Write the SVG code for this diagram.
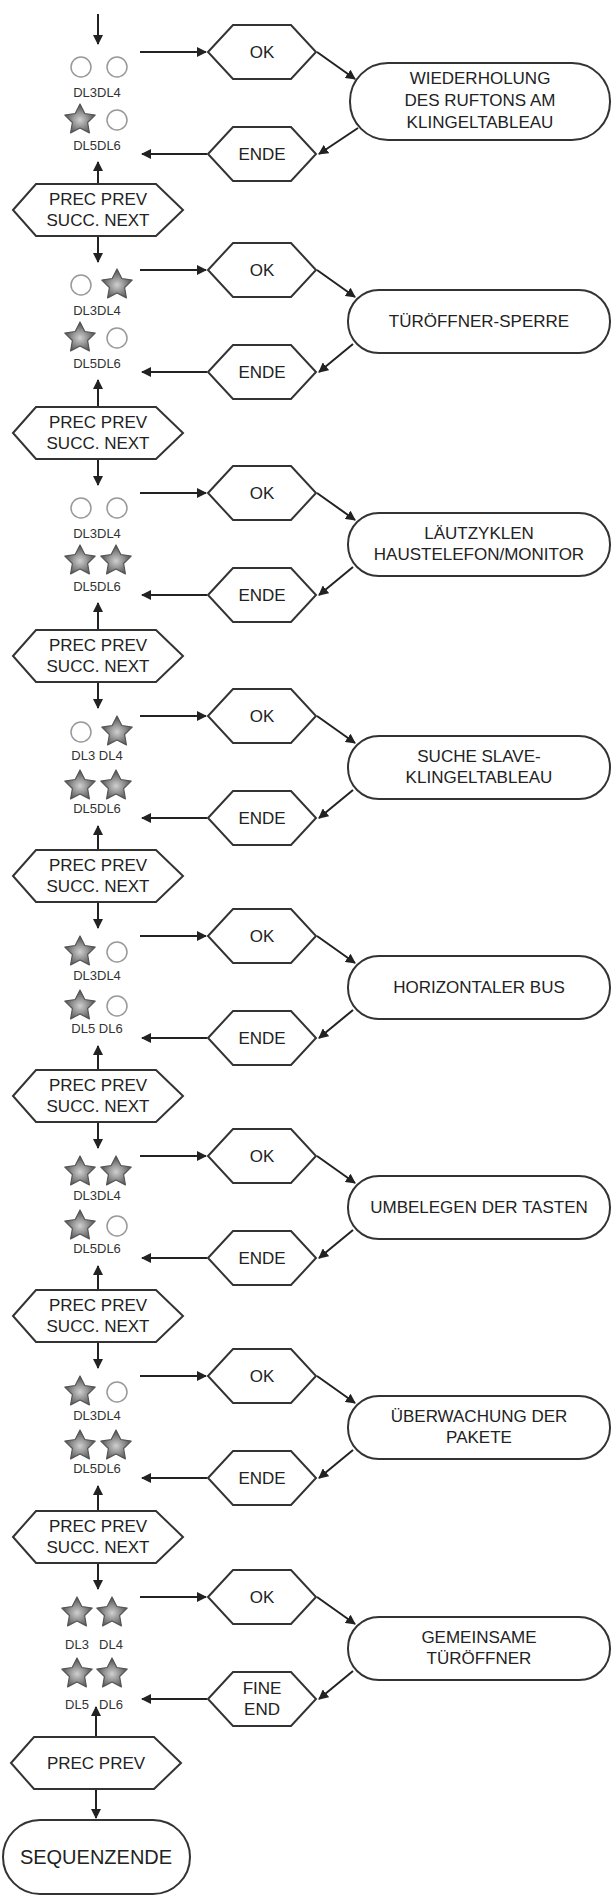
<svg xmlns="http://www.w3.org/2000/svg" xmlns:xlink="http://www.w3.org/1999/xlink" width="615" height="1898" viewBox="0 0 615 1898">
<style>
.s{fill:#fff;stroke:#333;stroke-width:2}
.c{stroke:#222;stroke-width:2;fill:none}
.t{font-family:"Liberation Sans",Arial,sans-serif;font-size:17px;fill:#222;text-anchor:middle}
.l{font-family:"Liberation Sans",Arial,sans-serif;font-size:13px;fill:#333;text-anchor:middle}
.o{fill:#fff;stroke:#999;stroke-width:1.5}
</style>
<defs>
<marker id="a" viewBox="0 0 10 10" refX="9" refY="5" markerWidth="5" markerHeight="5" orient="auto"><path d="M0,0 L10,5 L0,10 z" fill="#222"/></marker>
<radialGradient id="g" cx="0.5" cy="0.55" r="0.55"><stop offset="0" stop-color="#d0d0d0"/><stop offset="1" stop-color="#4a4a4a"/></radialGradient>
<polygon id="st" points="0,-16 4.8,-6.5 15.2,-4.9 7.6,2.5 9.4,12.9 0,8 -9.4,12.9 -7.6,2.5 -15.2,-4.9 -4.8,-6.5" fill="url(#g)" stroke="#555" stroke-width="1.2" stroke-linejoin="round"/>
<circle id="ci" r="10" class="o"/>
<polygon id="hx" points="-54,0 -29,-27 29,-27 54,0 29,27 -29,27" class="s"/>
<polygon id="ph" points="-85,0 -62,-26 58,-26 85,0 58,26 -62,26" class="s"/>
</defs>
<g id="connectors">
<line class="c" x1="98" y1="14" x2="98" y2="44" marker-end="url(#a)"/>
<g>
<line class="c" x1="140" y1="52" x2="206" y2="52" marker-end="url(#a)"/><line class="c" x1="317" y1="52" x2="355" y2="79" marker-end="url(#a)"/><line class="c" x1="358" y1="128" x2="319" y2="154" marker-end="url(#a)"/><line class="c" x1="207" y1="154" x2="142" y2="154" marker-end="url(#a)"/>
<line class="c" x1="98" y1="184" x2="98" y2="162" marker-end="url(#a)"/><line class="c" x1="98" y1="236" x2="98" y2="262" marker-end="url(#a)"/>
</g>
<g>
<line class="c" x1="140" y1="270" x2="206" y2="270" marker-end="url(#a)"/><line class="c" x1="317" y1="270" x2="355" y2="297" marker-end="url(#a)"/><line class="c" x1="353" y1="344" x2="319" y2="372" marker-end="url(#a)"/><line class="c" x1="207" y1="372" x2="142" y2="372" marker-end="url(#a)"/>
<line class="c" x1="98" y1="407" x2="98" y2="380" marker-end="url(#a)"/><line class="c" x1="98" y1="459" x2="98" y2="485" marker-end="url(#a)"/>
</g>
<g>
<line class="c" x1="140" y1="493" x2="206" y2="493" marker-end="url(#a)"/><line class="c" x1="317" y1="493" x2="355" y2="520" marker-end="url(#a)"/><line class="c" x1="353" y1="567" x2="319" y2="595" marker-end="url(#a)"/><line class="c" x1="207" y1="595" x2="142" y2="595" marker-end="url(#a)"/>
<line class="c" x1="98" y1="630" x2="98" y2="603" marker-end="url(#a)"/><line class="c" x1="98" y1="682" x2="98" y2="708" marker-end="url(#a)"/>
</g>
<g>
<line class="c" x1="140" y1="716" x2="206" y2="716" marker-end="url(#a)"/><line class="c" x1="317" y1="716" x2="355" y2="743" marker-end="url(#a)"/><line class="c" x1="353" y1="790" x2="319" y2="818" marker-end="url(#a)"/><line class="c" x1="207" y1="818" x2="142" y2="818" marker-end="url(#a)"/>
<line class="c" x1="98" y1="850" x2="98" y2="826" marker-end="url(#a)"/><line class="c" x1="98" y1="902" x2="98" y2="928" marker-end="url(#a)"/>
</g>
<g>
<line class="c" x1="140" y1="936" x2="206" y2="936" marker-end="url(#a)"/><line class="c" x1="317" y1="936" x2="355" y2="963" marker-end="url(#a)"/><line class="c" x1="353" y1="1010" x2="319" y2="1038" marker-end="url(#a)"/><line class="c" x1="207" y1="1038" x2="142" y2="1038" marker-end="url(#a)"/>
<line class="c" x1="98" y1="1070" x2="98" y2="1046" marker-end="url(#a)"/><line class="c" x1="98" y1="1122" x2="98" y2="1148" marker-end="url(#a)"/>
</g>
<g>
<line class="c" x1="140" y1="1156" x2="206" y2="1156" marker-end="url(#a)"/><line class="c" x1="317" y1="1156" x2="355" y2="1183" marker-end="url(#a)"/><line class="c" x1="353" y1="1230" x2="319" y2="1258" marker-end="url(#a)"/><line class="c" x1="207" y1="1258" x2="142" y2="1258" marker-end="url(#a)"/>
<line class="c" x1="98" y1="1290" x2="98" y2="1266" marker-end="url(#a)"/><line class="c" x1="98" y1="1342" x2="98" y2="1368" marker-end="url(#a)"/>
</g>
<g>
<line class="c" x1="140" y1="1376" x2="206" y2="1376" marker-end="url(#a)"/><line class="c" x1="317" y1="1376" x2="355" y2="1403" marker-end="url(#a)"/><line class="c" x1="353" y1="1450" x2="319" y2="1478" marker-end="url(#a)"/><line class="c" x1="207" y1="1478" x2="142" y2="1478" marker-end="url(#a)"/>
<line class="c" x1="98" y1="1511" x2="98" y2="1486" marker-end="url(#a)"/><line class="c" x1="98" y1="1563" x2="98" y2="1589" marker-end="url(#a)"/>
</g>
<g>
<line class="c" x1="140" y1="1597" x2="206" y2="1597" marker-end="url(#a)"/><line class="c" x1="317" y1="1597" x2="355" y2="1624" marker-end="url(#a)"/><line class="c" x1="353" y1="1671" x2="319" y2="1699" marker-end="url(#a)"/><line class="c" x1="207" y1="1699" x2="142" y2="1699" marker-end="url(#a)"/>
<line class="c" x1="96" y1="1737" x2="96" y2="1707" marker-end="url(#a)"/><line class="c" x1="96" y1="1789" x2="96" y2="1818" marker-end="url(#a)"/>
</g>
</g>

<g id="led1"><use href="#ci" x="81" y="67"/><use href="#ci" x="117" y="67"/><text class="l" x="97" y="97">DL3DL4</text><use href="#st" x="80" y="120"/><use href="#ci" x="117" y="120"/><text class="l" x="97" y="150">DL5DL6</text></g>
<g id="ok1"><use href="#hx" x="262" y="52"/><text class="t" x="262" y="58">OK</text></g>
<g id="box1"><rect class="s" x="350" y="63" width="260" height="77" rx="38"/><text class="t" x="480" y="84">WIEDERHOLUNG</text><text class="t" x="480" y="106">DES RUFTONS AM</text><text class="t" x="480" y="128">KLINGELTABLEAU</text></g>
<g id="ende1"><use href="#hx" x="262" y="154"/><text class="t" x="262" y="160">ENDE</text></g>
<g id="prec1"><use href="#ph" x="98" y="210"/><text class="t" x="98" y="205">PREC PREV</text><text class="t" x="98" y="226">SUCC. NEXT</text></g>

<g id="led2"><use href="#ci" x="81" y="285"/><use href="#st" x="117" y="285"/><text class="l" x="97" y="315">DL3DL4</text><use href="#st" x="80" y="338"/><use href="#ci" x="117" y="338"/><text class="l" x="97" y="368">DL5DL6</text></g>
<g id="ok2"><use href="#hx" x="262" y="270"/><text class="t" x="262" y="276">OK</text></g>
<g id="box2"><rect class="s" x="348" y="290" width="262" height="63" rx="31"/><text class="t" x="479" y="327">TÜRÖFFNER-SPERRE</text></g>
<g id="ende2"><use href="#hx" x="262" y="372"/><text class="t" x="262" y="378">ENDE</text></g>
<g id="prec2"><use href="#ph" x="98" y="433"/><text class="t" x="98" y="428">PREC PREV</text><text class="t" x="98" y="449">SUCC. NEXT</text></g>

<g id="led3"><use href="#ci" x="81" y="508"/><use href="#ci" x="117" y="508"/><text class="l" x="97" y="538">DL3DL4</text><use href="#st" x="80" y="561"/><use href="#st" x="116" y="561"/><text class="l" x="97" y="591">DL5DL6</text></g>
<g id="ok3"><use href="#hx" x="262" y="493"/><text class="t" x="262" y="499">OK</text></g>
<g id="box3"><rect class="s" x="348" y="513" width="262" height="63" rx="31"/><text class="t" x="479" y="539">LÄUTZYKLEN</text><text class="t" x="479" y="560">HAUSTELEFON/MONITOR</text></g>
<g id="ende3"><use href="#hx" x="262" y="595"/><text class="t" x="262" y="601">ENDE</text></g>
<g id="prec3"><use href="#ph" x="98" y="656"/><text class="t" x="98" y="651">PREC PREV</text><text class="t" x="98" y="672">SUCC. NEXT</text></g>

<g id="led4"><use href="#ci" x="81" y="732"/><use href="#st" x="117" y="732"/><text class="l" x="97" y="760">DL3 DL4</text><use href="#st" x="80" y="786"/><use href="#st" x="116" y="786"/><text class="l" x="97" y="813">DL5DL6</text></g>
<g id="ok4"><use href="#hx" x="262" y="716"/><text class="t" x="262" y="722">OK</text></g>
<g id="box4"><rect class="s" x="348" y="736" width="262" height="63" rx="31"/><text class="t" x="479" y="762">SUCHE SLAVE-</text><text class="t" x="479" y="783">KLINGELTABLEAU</text></g>
<g id="ende4"><use href="#hx" x="262" y="818"/><text class="t" x="262" y="824">ENDE</text></g>
<g id="prec4"><use href="#ph" x="98" y="876"/><text class="t" x="98" y="871">PREC PREV</text><text class="t" x="98" y="892">SUCC. NEXT</text></g>

<g id="led5"><use href="#st" x="80" y="952"/><use href="#ci" x="117" y="952"/><text class="l" x="97" y="980">DL3DL4</text><use href="#st" x="80" y="1006"/><use href="#ci" x="117" y="1006"/><text class="l" x="97" y="1033">DL5 DL6</text></g>
<g id="ok5"><use href="#hx" x="262" y="936"/><text class="t" x="262" y="942">OK</text></g>
<g id="box5"><rect class="s" x="348" y="956" width="262" height="63" rx="31"/><text class="t" x="479" y="993">HORIZONTALER BUS</text></g>
<g id="ende5"><use href="#hx" x="262" y="1038"/><text class="t" x="262" y="1044">ENDE</text></g>
<g id="prec5"><use href="#ph" x="98" y="1096"/><text class="t" x="98" y="1091">PREC PREV</text><text class="t" x="98" y="1112">SUCC. NEXT</text></g>

<g id="led6"><use href="#st" x="80" y="1172"/><use href="#st" x="116" y="1172"/><text class="l" x="97" y="1200">DL3DL4</text><use href="#st" x="80" y="1226"/><use href="#ci" x="117" y="1226"/><text class="l" x="97" y="1253">DL5DL6</text></g>
<g id="ok6"><use href="#hx" x="262" y="1156"/><text class="t" x="262" y="1162">OK</text></g>
<g id="box6"><rect class="s" x="348" y="1176" width="262" height="63" rx="31"/><text class="t" x="479" y="1213">UMBELEGEN DER TASTEN</text></g>
<g id="ende6"><use href="#hx" x="262" y="1258"/><text class="t" x="262" y="1264">ENDE</text></g>
<g id="prec6"><use href="#ph" x="98" y="1316"/><text class="t" x="98" y="1311">PREC PREV</text><text class="t" x="98" y="1332">SUCC. NEXT</text></g>

<g id="led7"><use href="#st" x="80" y="1392"/><use href="#ci" x="117" y="1392"/><text class="l" x="97" y="1420">DL3DL4</text><use href="#st" x="80" y="1446"/><use href="#st" x="116" y="1446"/><text class="l" x="97" y="1473">DL5DL6</text></g>
<g id="ok7"><use href="#hx" x="262" y="1376"/><text class="t" x="262" y="1382">OK</text></g>
<g id="box7"><rect class="s" x="348" y="1396" width="262" height="63" rx="31"/><text class="t" x="479" y="1422">ÜBERWACHUNG DER</text><text class="t" x="479" y="1443">PAKETE</text></g>
<g id="ende7"><use href="#hx" x="262" y="1478"/><text class="t" x="262" y="1484">ENDE</text></g>
<g id="prec7"><use href="#ph" x="98" y="1537"/><text class="t" x="98" y="1532">PREC PREV</text><text class="t" x="98" y="1553">SUCC. NEXT</text></g>

<g id="led8"><use href="#st" x="77" y="1613"/><use href="#st" x="112" y="1613"/><text class="l" x="77" y="1649">DL3</text><text class="l" x="111" y="1649">DL4</text><use href="#st" x="77" y="1674"/><use href="#st" x="112" y="1674"/><text class="l" x="77" y="1709">DL5</text><text class="l" x="111" y="1709">DL6</text></g>
<g id="ok8"><use href="#hx" x="262" y="1597"/><text class="t" x="262" y="1603">OK</text></g>
<g id="box8"><rect class="s" x="348" y="1617" width="262" height="63" rx="31"/><text class="t" x="479" y="1643">GEMEINSAME</text><text class="t" x="479" y="1664">TÜRÖFFNER</text></g>
<g id="end8"><use href="#hx" x="262" y="1699"/><text class="t" x="262" y="1694">FINE</text><text class="t" x="262" y="1715">END</text></g>
<g id="prec8"><use href="#ph" x="96" y="1763"/><text class="t" x="96" y="1769">PREC PREV</text></g>
<g id="seqend"><rect class="s" x="3" y="1820" width="187" height="74" rx="37"/><text class="t" x="96" y="1864" style="font-size:20px">SEQUENZENDE</text></g>
</svg>
